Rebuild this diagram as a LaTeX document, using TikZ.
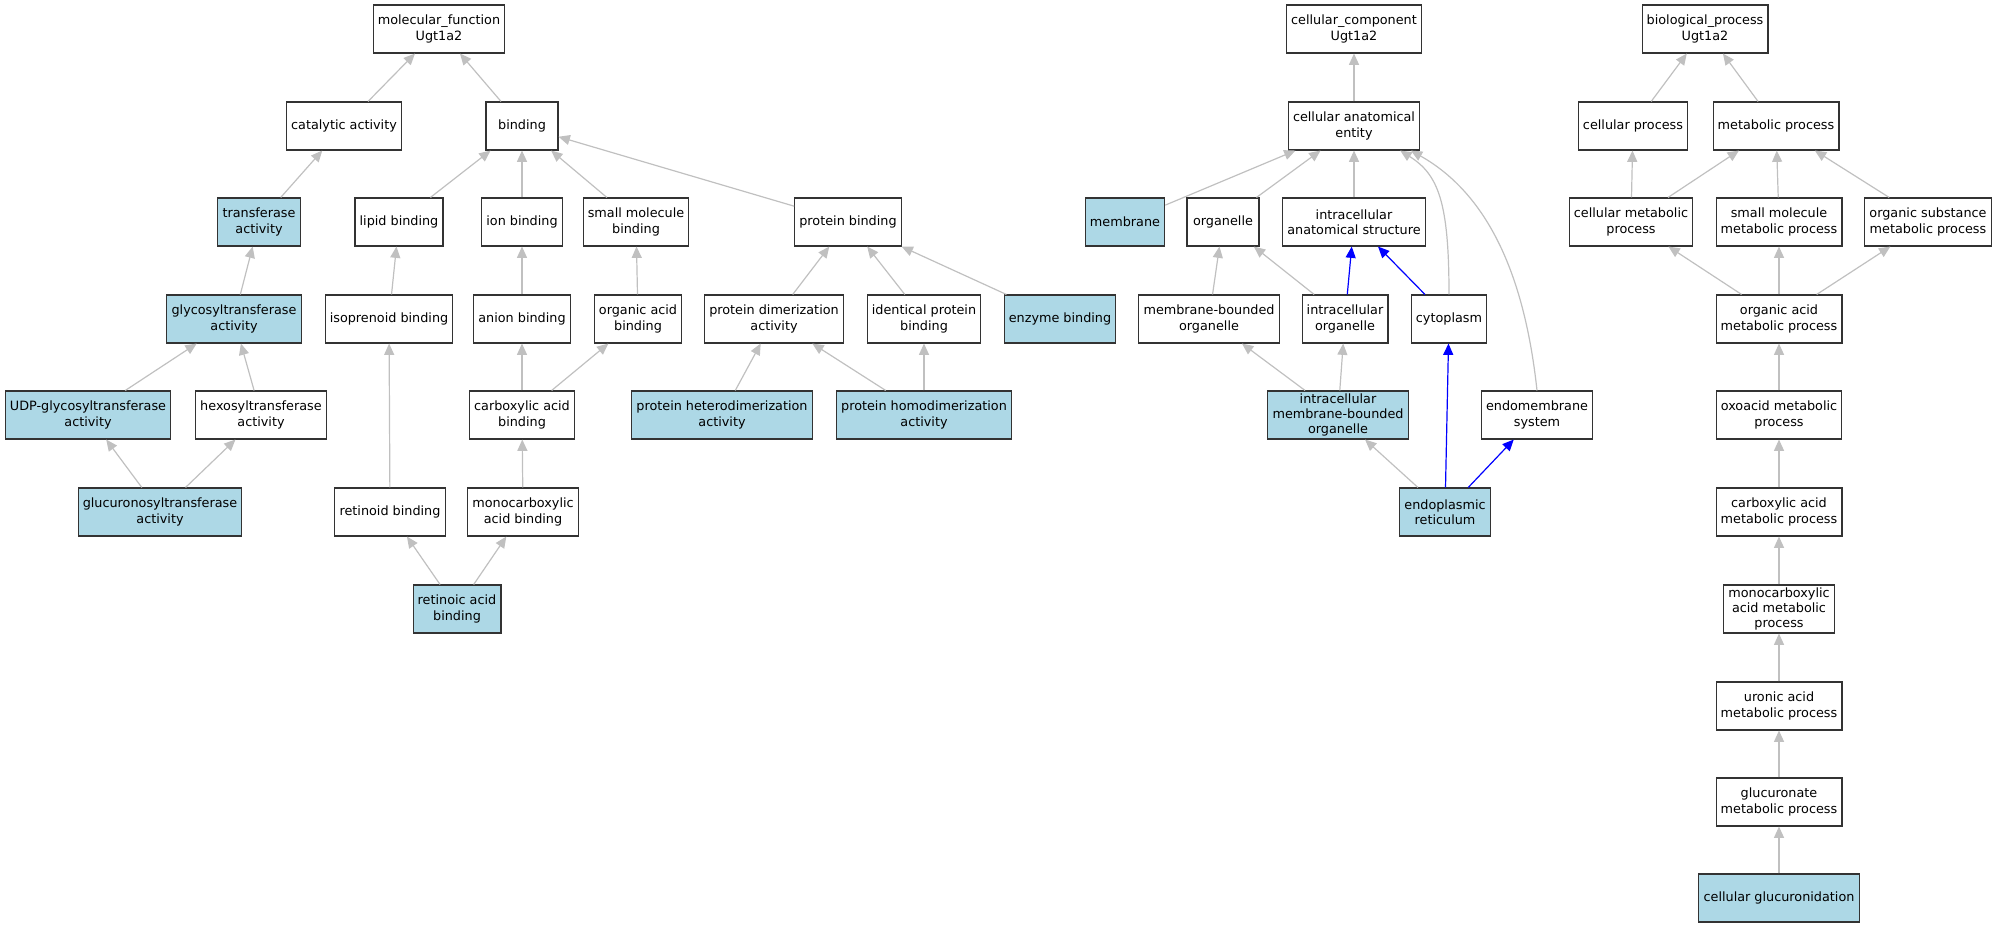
\documentclass[tikz,border=0pt]{standalone}
\usepackage{fontspec}
\setmainfont{DejaVu Sans}
\usetikzlibrary{arrows.meta}
\definecolor{lblue}{HTML}{ADD8E6}
\definecolor{lgray}{HTML}{C0C0C0}

\begin{document}
\begin{tikzpicture}[x=.75pt,y=-.75pt]
    \tikzstyle{n} = [draw=black!80,line width=.8pt,minimum width=54pt,minimum height=36pt,inner xsep=3.5pt,inner ysep=1pt,align=center,font=\fontsize{9.6}{11.4}\selectfont]
    \tikzstyle{hit} = [n,fill=lblue]
    \tikzstyle{Up} = [draw=lgray,line width=.9pt,-{Triangle[length=8.5pt,width=7.5pt]}]
    \tikzstyle{Blue} = [draw=blue,line width=.9pt,-{Triangle[length=8.5pt,width=7.5pt]}]
    \useasboundingbox (0,0) rectangle (1996,928);
    %% molecular function
    \node [n] (mf) at (439,29) {molecular\_function\\Ugt1a2};
    \node [n] (cat) at (344,126) {catalytic activity};
    \node [n] (bind) at (522,126) {binding};
    \node [hit] (trans) at (259,222) {transferase\\activity};
    \node [n] (lipid) at (399,222) {lipid binding};
    \node [n] (ion) at (522,222) {ion binding};
    \node [n] (smb) at (636,222) {small molecule\\binding};
    \node [n] (prot) at (848,222) {protein binding};
    \node [hit] (glyco) at (234,319) {glycosyltransferase\\activity};
    \node [n] (iso) at (389,319) {isoprenoid binding};
    \node [n] (anion) at (522,319) {anion binding};
    \node [n] (oab) at (638,319) {organic acid\\binding};
    \node [n] (dimer) at (774,319) {protein dimerization\\activity};
    \node [n] (ident) at (924,319) {identical protein\\binding};
    \node [hit] (enz) at (1060,319) {enzyme binding};
    \node [hit] (udp) at (88,415) {UDP-glycosyltransferase\\activity};
    \node [n] (hexo) at (261,415) {hexosyltransferase\\activity};
    \node [n] (cab) at (522,415) {carboxylic acid\\binding};
    \node [hit] (hetero) at (722,415) {protein heterodimerization\\activity};
    \node [hit] (homo) at (924,415) {protein homodimerization\\activity};
    \node [hit] (glucu) at (160,512) {glucuronosyltransferase\\activity};
    \node [n] (retd) at (390,512) {retinoid binding};
    \node [n] (mcab) at (523,512) {monocarboxylic\\acid binding};
    \node [hit] (reta) at (457,609) {retinoic acid\\binding};
    \path [Up] (cat) to (mf); \path [Up] (bind) to (mf);
    \path [Up] (trans) to (cat); \path [Up] (glyco) to (trans);
    \path [Up] (udp) to (glyco); \path [Up] (hexo) to (glyco);
    \path [Up] (glucu) to (udp); \path [Up] (glucu) to (hexo);
    \path [Up] (lipid) to (bind); \path [Up] (ion) to (bind);
    \path [Up] (smb) to (bind); \path [Up] (prot) to (bind);
    \path [Up] (iso) to (lipid); \path [Up] (retd) to (iso);
    \path [Up] (anion) to (ion); \path [Up] (cab) to (anion);
    \path [Up] (cab) to (oab); \path [Up] (oab) to (smb);
    \path [Up] (mcab) to (cab);
    \path [Up] (reta) to (retd); \path [Up] (reta) to (mcab);
    \path [Up] (dimer) to (prot); \path [Up] (ident) to (prot); \path [Up] (enz) to (prot);
    \path [Up] (hetero) to (dimer); \path [Up] (homo) to (dimer); \path [Up] (homo) to (ident);
    %% cellular component
    \node [n] (cc) at (1354,29) {cellular\_component\\Ugt1a2};
    \node [n] (cae) at (1354,126) {cellular anatomical\\entity};
    \node [hit] (memb) at (1125,222) {membrane};
    \node [n] (orgl) at (1223,222) {organelle};
    \node [n] (ias) at (1354,222) {intracellular\\anatomical structure};
    \node [n] (mbo) at (1209,319) {membrane-bounded\\organelle};
    \node [n] (io) at (1345,319) {intracellular\\organelle};
    \node [n] (cyto) at (1449,319) {cytoplasm};
    \node [hit] (imbo) at (1338,415) {intracellular\\membrane-bounded\\organelle};
    \node [n] (ems) at (1537,415) {endomembrane\\system};
    \node [hit] (er) at (1445,512) {endoplasmic\\reticulum};
    \path [Up] (cae) to (cc);
    \path [Up] (memb) to (cae); \path [Up] (orgl) to (cae); \path [Up] (ias) to (cae);
    \path [Up] (cyto.north) .. controls +(0,-93) and +(38,24) .. ([xshift=-15pt]cae.south east);
    \path [Up] (ems.north) .. controls +(-14,-130) and +(69,39) .. ([xshift=-7pt]cae.south east);
    \path [Up] (mbo) to (orgl); \path [Up] (io) to (orgl);
    \path [Blue] (io) to (ias); \path [Blue] (cyto) to (ias);
    \path [Up] (imbo) to (mbo); \path [Up] (imbo) to (io);
    \path [Up] (er) to (imbo); \path [Blue] (er) to (cyto); \path [Blue] (er) to (ems);
    %% biological process
    \node [n] (bp) at (1705,29) {biological\_process\\Ugt1a2};
    \node [n] (cp) at (1633,126) {cellular process};
    \node [n] (mp) at (1776,126) {metabolic process};
    \node [n] (cmp) at (1631,222) {cellular metabolic\\process};
    \node [n] (smp) at (1779,222) {small molecule\\metabolic process};
    \node [n] (osmp) at (1928,222) {organic substance\\metabolic process};
    \node [n] (oamp) at (1779,319) {organic acid\\metabolic process};
    \node [n] (oxo) at (1779,415) {oxoacid metabolic\\process};
    \node [n] (camp) at (1779,512) {carboxylic acid\\metabolic process};
    \node [n] (mcamp) at (1779,609) {monocarboxylic\\acid metabolic\\process};
    \node [n] (uron) at (1779,706) {uronic acid\\metabolic process};
    \node [n] (glucn) at (1779,802) {glucuronate\\metabolic process};
    \node [hit] (cglu) at (1779,898) {cellular glucuronidation};
    \path [Up] (cp) to (bp); \path [Up] (mp) to (bp);
    \path [Up] (cmp) to (cp); \path [Up] (cmp) to (mp);
    \path [Up] (smp) to (mp); \path [Up] (osmp) to (mp);
    \path [Up] (oamp) to (cmp); \path [Up] (oamp) to (smp); \path [Up] (oamp) to (osmp);
    \path [Up] (oxo) to (oamp); \path [Up] (camp) to (oxo);
    \path [Up] (mcamp) to (camp); \path [Up] (uron) to (mcamp);
    \path [Up] (glucn) to (uron); \path [Up] (cglu) to (glucn);
\end{tikzpicture}
\end{document}
